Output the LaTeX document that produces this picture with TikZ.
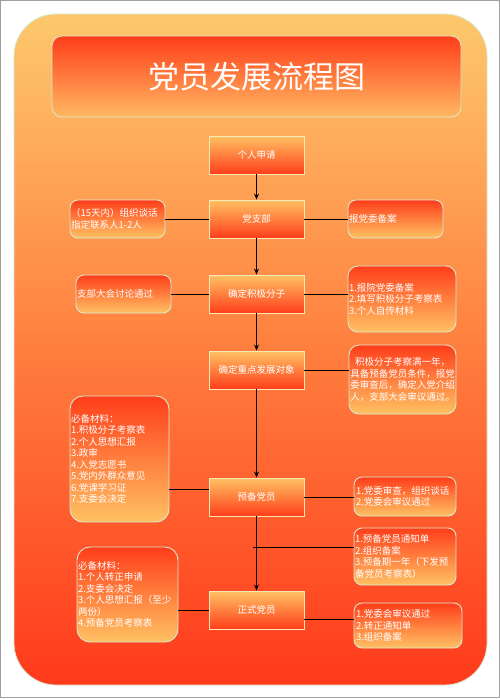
\documentclass[tikz,border=0pt]{standalone}
\usepackage{fontspec}
\setmainfont{Noto Sans CJK SC}
\usetikzlibrary{arrows.meta}
\definecolor{bgtop}{HTML}{FDC86C}
\definecolor{bgmid}{HTML}{FF7E3E}
\definecolor{bgbot}{HTML}{FF3A1C}
\definecolor{lite}{HTML}{FFC163}
\definecolor{deep}{HTML}{FF3E1A}
\definecolor{titlebot}{HTML}{FFB862}
\definecolor{mainedge}{HTML}{F5E9B5}
\definecolor{sideedge}{HTML}{D5EAD0}
\definecolor{frame}{HTML}{A0A0A0}
\tikzset{
  txt/.style={text=white, font=\fontsize{9.5}{11.5}\selectfont},
  mainbox/.style={txt, draw=mainedge, line width=0.9pt, top color=lite, bottom color=deep,
    minimum width=95pt, minimum height=38pt, inner sep=0pt},
  sidebox/.style={txt, draw=sideedge, line width=0.9pt, top color=deep, bottom color=lite,
    rounded corners=8pt, inner sep=1pt, align=left},
  flow/.style={line width=1pt, -{Stealth[length=6pt,width=5pt]}},
  link/.style={line width=1pt}
}
\begin{document}
\begin{tikzpicture}[x=1pt,y=-1pt]
\useasboundingbox (0,0) rectangle (500,699);
\draw[frame, line width=1pt] (0.5,0.5) rectangle (499.5,697.5);
% background panel
\path[draw=sideedge, line width=0.8pt, top color=bgtop, bottom color=bgbot, middle color=bgmid, rounded corners=42pt]
  (14,14) rectangle (487,685);
% title
\node[draw=sideedge, line width=0.8pt, top color=deep, bottom color=titlebot, rounded corners=10pt,
  minimum width=409pt, minimum height=81pt, text=white, font=\fontsize{31}{36}\selectfont]
  (title) at (256.5,76.5) {党员发展流程图};
% main column
\node[mainbox] (A) at (256.5,155) {个人申请};
\node[mainbox] (B) at (256.5,219) {党支部};
\node[mainbox] (C) at (256.5,294) {确定积极分子};
\node[mainbox] (D) at (256.5,370) {确定重点发展对象};
\node[mainbox] (E) at (256.5,497) {预备党员};
\node[mainbox] (F) at (256.5,610) {正式党员};
% side boxes
\node[sidebox, minimum width=95pt, minimum height=38pt, text width=93pt] (L1) at (117.5,219)
  {（15天内）组织谈话\\指定联系人1-2人};
\node[sidebox, minimum width=95pt, minimum height=38pt, text width=93pt] (R1) at (395.5,219)
  {报党委备案};
\node[sidebox, minimum width=95pt, minimum height=38pt, text width=93pt] (L2) at (123.5,294)
  {支部大会讨论通过};
\node[sidebox, minimum width=108pt, minimum height=66pt, text width=106pt, rounded corners=10pt] (R2) at (402,299)
  {1.报院党委备案\\2.填写积极分子考察表\\3.个人自传材料};
\node[sidebox, minimum width=107pt, minimum height=69pt, text width=105pt, align=center, rounded corners=10pt] (R3) at (402.5,379.5)
  {积极分子考察满一年，\\具备预备党员条件，报党\\委审查后，确定入党介绍\\人，支部大会审议通过。};
\node[sidebox, minimum width=99pt, minimum height=126pt, text width=97pt, rounded corners=13pt] (L4) at (119.5,459)
  {必备材料：\\1.积极分子考察表\\2.个人思想汇报\\3.政审\\4.入党志愿书\\5.党内外群众意见\\6.党课学习证\\7.支委会决定};
\node[sidebox, minimum width=102pt, minimum height=39pt, text width=98pt] (R4) at (405,496.5)
  {1.党委审查，组织谈话\\2.党委会审议通过};
\node[sidebox, minimum width=102pt, minimum height=57pt, text width=100pt] (R5) at (405,556.5)
  {1.预备党员通知单\\2.组织备案\\3.预备期一年（下发预\\备党员考察表）};
\node[sidebox, minimum width=101pt, minimum height=95pt, text width=99pt, rounded corners=13pt] (L5) at (127.5,594.5)
  {必备材料：\\1.个人转正申请\\2.支委会决定\\3.个人思想汇报（至少\\两份）\\4.预备党员考察表};
\node[sidebox, minimum width=108pt, minimum height=45pt, text width=104pt] (R6) at (408,625.5)
  {1.党委会审议通过\\2.转正通知单\\3.组织备案};
% flow arrows
\draw[flow] (A) -- (B);
\draw[flow] (B) -- (C);
\draw[flow] (C) -- (D);
\draw[flow] (D) -- (E);
\draw[flow] (E) -- (F);
% side links
\draw[link] (L1) -- (B);
\draw[link] (B) -- (R1);
\draw[link] (L2) -- (C);
\draw[link] (C.east) -- (C.east -| R2.west);
\draw[link] (D.east) -- (D.east -| R3.west);
\draw[link] ([yshift=8pt]E.west) -- ([yshift=8pt]E.west -| L4.east);
\draw[link] (E.east) -- (E.east -| R4.west);
\coordinate (J) at (253,547);
\draw[link] (J) -- (J -| R5.west);
\draw[link] (F.west) -- (F.west -| L5.east);
\draw[link] ([yshift=-9pt]F.east) -- ([yshift=-9pt]F.east -| R6.west);
\end{tikzpicture}
\end{document}
